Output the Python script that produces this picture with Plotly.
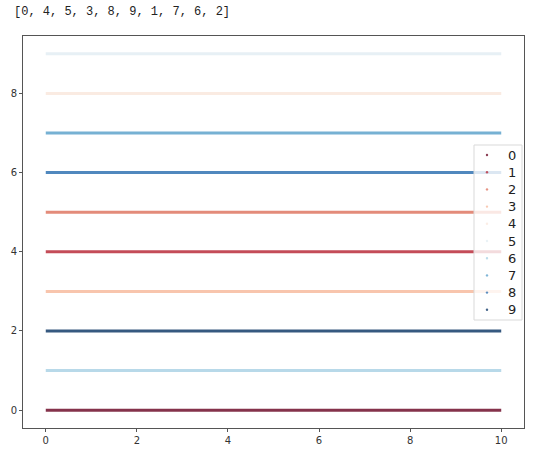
import plotly.graph_objects as go

labels = ["0", "1", "2", "3", "4", "5", "6", "7", "8", "9"]
y_levels = [0, 4, 5, 3, 8, 9, 1, 7, 6, 2]
x_start = [0, 0, 0, 0, 0, 0, 0, 0, 0, 0]
x_end = [10, 10, 10, 10, 10, 10, 10, 10, 10, 10]
colors = ["#67001f", "#b6202f", "#dd6f59", "#f7b799", "#fae7dc",
          "#e2edf3", "#a7d0e4", "#559ec9", "#256baf", "#053061"]
x_ticks = [0, 2, 4, 6, 8, 10]
y_ticks = [0, 2, 4, 6, 8]
title_text = "[0, 4, 5, 3, 8, 9, 1, 7, 6, 2]"

W, H = 539, 458
L, R, T, B = 23, 15, 36, 30
pw, ph = W - L - R, H - T - B


def px_x(p):
    return (p - L) / pw


def px_y(p):
    return (H - B - p) / ph


fig = go.Figure()
for lab, yv, x0, x1, c in zip(labels, y_levels, x_start, x_end, colors):
    fig.add_trace(go.Scatter(
        x=[x0, x1], y=[yv, yv], mode="lines", name=lab,
        line=dict(color=c, width=3), opacity=0.8,
        showlegend=False))

# legend drawn as shapes + text (matplotlib-style compact legend)
shapes = [dict(type="rect", xref="paper", yref="paper",
               x0=px_x(474), x1=px_x(522), y0=px_y(320), y1=px_y(145),
               fillcolor="rgba(255,255,255,0.8)",
               line=dict(color="#d9d9d9", width=1), layer="above")]
annotations = [dict(text=title_text, xref="paper", yref="paper", x=0, y=1,
                    xanchor="left", yanchor="middle", xshift=-11, yshift=24,
                    showarrow=False,
                    font=dict(family="Liberation Mono", size=12, color="#222222"))]
for i, (lab, c) in enumerate(zip(labels, colors)):
    cy = 155 + 17.2 * i
    shapes.append(dict(type="circle", xref="paper", yref="paper",
                       x0=px_x(485.8), x1=px_x(488.2), y0=px_y(cy + 1.2), y1=px_y(cy - 1.2),
                       fillcolor=c, opacity=0.75, line=dict(width=0), layer="above"))
    annotations.append(dict(text=lab, xref="paper", yref="paper",
                            x=px_x(506), y=px_y(cy), xanchor="left", yanchor="middle",
                            showarrow=False,
                            font=dict(family="DejaVu Sans", size=13, color="#222222")))

fig.update_layout(
    width=W, height=H,
    margin=dict(l=L, r=R, t=T, b=B, autoexpand=False),
    paper_bgcolor="white", plot_bgcolor="white",
    showlegend=False,
    font=dict(family="DejaVu Sans", size=10, color="#333333"),
    xaxis=dict(range=[-0.5, 10.5], tickvals=x_ticks, showgrid=False, zeroline=False,
               showline=True, linecolor="#555555", linewidth=1, mirror=True,
               ticks="outside", ticklen=3, tickcolor="#555555"),
    yaxis=dict(range=[-0.45, 9.45], tickvals=y_ticks, showgrid=False, zeroline=False,
               showline=True, linecolor="#555555", linewidth=1, mirror=True,
               ticks="outside", ticklen=3, tickcolor="#555555"),
    shapes=shapes,
    annotations=annotations,
)

fig.write_html("out.html",
               config={"displayModeBar": False},
               post_script="document.body.style.margin='0px';"
                           "document.body.style.overflow='hidden';")
